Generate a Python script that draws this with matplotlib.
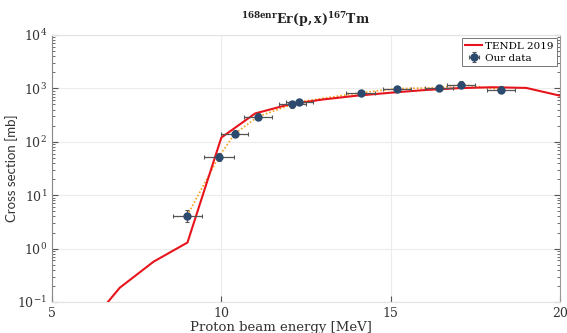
import matplotlib
matplotlib.use("Agg")
import matplotlib.pyplot as plt
from matplotlib.ticker import LogLocator, NullFormatter, FixedLocator

# TENDL 2019 evaluation
tendl_energy = [6.65, 7.0, 8.0, 9.0, 10.0, 11.0, 12.0, 13.0, 14.0, 15.0, 16.0, 17.0, 18.0, 19.0, 20.0]
tendl_xs = [0.10, 0.185, 0.57, 1.3, 120, 340, 500, 620, 730, 830, 930, 1010, 1050, 1020, 730]

# Measured cross sections
exp_energy = [8.99, 9.93, 10.40, 11.08, 12.09, 12.30, 14.12, 15.18, 16.43, 17.08, 18.26]
exp_xs = [4.15, 53, 142, 296, 500, 560, 830, 990, 1030, 1180, 950]
exp_dE = [0.43, 0.43, 0.40, 0.41, 0.40, 0.40, 0.43, 0.42, 0.42, 0.42, 0.42]
exp_dxs_rel = [0.25, 0.18, 0.15, 0.15, 0.15, 0.14, 0.14, 0.14, 0.14, 0.14, 0.15]

x_ticks = [5, 10, 15, 20]

serif = ["DejaVu Serif"]
plt.rcParams["mathtext.fontset"] = "dejavuserif"

fig = plt.figure(figsize=(5.67, 3.33), dpi=100)
ax = fig.add_axes([0.0917, 0.093, 0.896, 0.802])

ax.set_yscale("log")
ax.set_xlim(5, 20)
ax.set_ylim(0.1, 1e4)

ax.grid(True, which="major", color="#ececec", lw=0.8)
ax.set_axisbelow(True)

# orange dotted guide through the measured points
ax.plot(exp_energy, exp_xs, ls=(0, (1, 1.2)), color="#f7a21b", lw=1.2, zorder=2)

ax.plot(tendl_energy, tendl_xs, color="#e8141c", lw=1.5, zorder=3, label="TENDL 2019")

yerr = [v * r for v, r in zip(exp_xs, exp_dxs_rel)]
ax.errorbar(exp_energy, exp_xs, xerr=exp_dE, yerr=yerr, fmt="o", ms=5,
            mfc="#2c4a6e", mec="#2c4a6e", ecolor="#555555", elinewidth=0.9,
            capsize=1.5, capthick=0.8, zorder=4, label="Our data")

ax.xaxis.set_major_locator(FixedLocator(x_ticks))
ax.yaxis.set_major_locator(LogLocator(base=10, numticks=10))
ax.yaxis.set_minor_locator(LogLocator(base=10, subs=range(2, 10), numticks=20))
ax.yaxis.set_minor_formatter(NullFormatter())
ax.tick_params(which="both", direction="in", right=True, top=False, colors="#555555",
               labelcolor="#333333", labelsize=9)
ax.tick_params(which="major", length=4)
ax.tick_params(which="minor", length=2.2)
for lab in ax.get_xticklabels() + ax.get_yticklabels():
    lab.set_family(serif)

for side in ["top", "bottom"]:
    ax.spines[side].set_color("#e3e3e3")
ax.spines["left"].set_color("#888888")
ax.spines["right"].set_color("#999999")
for s in ax.spines.values():
    s.set_linewidth(0.8)

ax.set_xlabel("Proton beam energy [MeV]", family=serif, fontsize=9.5, color="#333333")
ax.xaxis.set_label_coords(0.45, -0.072)
ax.set_ylabel("Cross section [mb]", family=["Lato"], fontsize=9.5, color="#333333")
ax.yaxis.set_label_coords(-0.066, 0.5)

ax.set_title(r"$^{\mathbf{168enr}}\mathbf{Er(p,x)}^{\mathbf{167}}\mathbf{Tm}$",
             fontsize=9, color="#222222", pad=8)

leg = ax.legend(loc="upper right", prop={"family": serif, "size": 7.5}, frameon=True,
                fancybox=False, edgecolor="#555555", borderaxespad=0.3,
                handlelength=1.6, handletextpad=0.3, borderpad=0.3, labelspacing=0.3)
leg.get_frame().set_linewidth(0.7)

fig.savefig("out.png", dpi=100)
